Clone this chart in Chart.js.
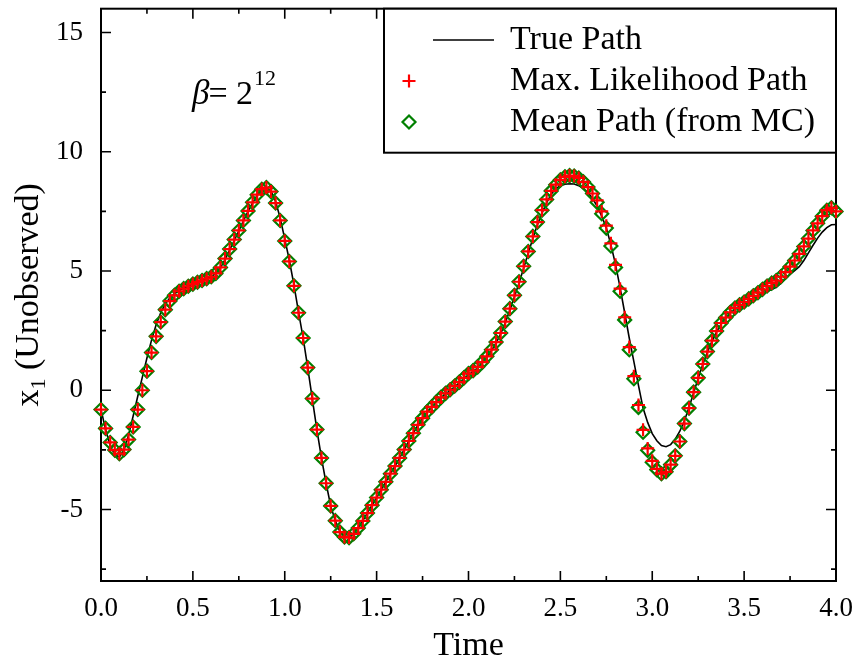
<!DOCTYPE html>
<html>
<head>
<meta charset="utf-8">
<script src="https://cdn.jsdelivr.net/npm/chart.js@4.4.1/dist/chart.umd.min.js"></script>
<style>
  html, body { margin: 0; padding: 0; background: #fff; }
</style>
</head>
<body>
<canvas id="chart_x1_paths" width="856" height="661"></canvas>
<script>
"use strict";

// paths are sampled every 0.025 time units, t = 0 .. 4 (161 samples)
const timeStep = 0.025;

// true (unobserved) x1, black line
const truePath = [
    -0.80, -1.65, -2.33, -2.70, -2.80, -2.52, -1.88, -1.08, -0.25, 0.55,
    1.35, 2.10, 2.75, 3.25, 3.62, 3.88, 4.05, 4.18, 4.28, 4.37,
    4.45, 4.53, 4.60, 4.68, 4.76, 4.90, 5.13, 5.48, 5.88, 6.28,
    6.68, 7.10, 7.50, 7.86, 8.18, 8.40, 8.48, 8.35, 7.92, 7.22,
    6.35, 5.45, 4.42, 3.28, 2.20, 0.95, -0.36, -1.66, -2.85, -3.90,
    -4.85, -5.47, -5.93, -6.12, -6.14, -6.00, -5.76, -5.47, -5.14, -4.82,
    -4.50, -4.17, -3.84, -3.50, -3.18, -2.84, -2.49, -2.13, -1.80, -1.46,
    -1.18, -0.92, -0.72, -0.52, -0.33, -0.16, -0.01, 0.14, 0.30, 0.48,
    0.65, 0.78, 0.94, 1.14, 1.38, 1.66, 1.98, 2.36, 2.83, 3.36,
    3.92, 4.50, 5.12, 5.74, 6.36, 6.94, 7.43, 7.86, 8.22, 8.46,
    8.58, 8.64, 8.66, 8.65, 8.58, 8.46, 8.29, 8.04, 7.72, 7.30,
    6.80, 6.10, 5.28, 4.30, 3.25, 2.18, 1.20, 0.20, -0.75, -1.35,
    -1.82, -2.12, -2.32, -2.37, -2.28, -2.05, -1.72, -1.28, -0.72, -0.12,
    0.50, 1.08, 1.60, 2.05, 2.45, 2.78, 3.02, 3.23, 3.40, 3.54,
    3.65, 3.76, 3.86, 3.96, 4.06, 4.14, 4.22, 4.32, 4.48, 4.68,
    4.86, 5.02, 5.18, 5.44, 5.76, 6.08, 6.38, 6.63, 6.82, 6.94,
    6.95
];

// maximum likelihood path, red crosses
const mlPath = [
    -0.81, -1.60, -2.19, -2.51, -2.66, -2.49, -2.07, -1.54, -0.81, 0.00,
    0.80, 1.58, 2.26, 2.86, 3.38, 3.74, 3.98, 4.15, 4.26, 4.36,
    4.45, 4.53, 4.60, 4.68, 4.76, 4.90, 5.15, 5.52, 5.92, 6.32,
    6.70, 7.12, 7.52, 7.88, 8.20, 8.43, 8.50, 8.33, 7.85, 7.12,
    6.26, 5.40, 4.38, 3.25, 2.19, 0.95, -0.35, -1.65, -2.84, -3.90,
    -4.85, -5.47, -5.95, -6.15, -6.18, -6.02, -5.78, -5.48, -5.15, -4.82,
    -4.50, -4.17, -3.84, -3.50, -3.18, -2.84, -2.49, -2.13, -1.80, -1.45,
    -1.17, -0.90, -0.70, -0.50, -0.30, -0.13, 0.02, 0.18, 0.34, 0.52,
    0.70, 0.82, 0.98, 1.18, 1.42, 1.70, 2.02, 2.40, 2.88, 3.42,
    3.98, 4.55, 5.20, 5.82, 6.45, 7.05, 7.55, 8.00, 8.36, 8.62,
    8.82, 8.95, 9.00, 8.98, 8.90, 8.74, 8.52, 8.25, 7.96, 7.50,
    6.90, 6.16, 5.26, 4.26, 3.06, 1.81, 0.59, -0.62, -1.66, -2.44,
    -2.96, -3.30, -3.50, -3.42, -3.12, -2.75, -2.15, -1.40, -0.75, -0.08,
    0.52, 1.10, 1.62, 2.08, 2.48, 2.82, 3.05, 3.27, 3.45, 3.58,
    3.70, 3.83, 3.96, 4.09, 4.23, 4.37, 4.49, 4.60, 4.76, 4.95,
    5.18, 5.44, 5.72, 6.03, 6.36, 6.70, 7.00, 7.30, 7.55, 7.65,
    7.50
];

// mean path from the Monte Carlo runs, green diamonds
const meanPath = [
    -0.81, -1.60, -2.19, -2.51, -2.66, -2.49, -2.07, -1.54, -0.81, 0.00,
    0.80, 1.58, 2.26, 2.86, 3.38, 3.74, 3.98, 4.15, 4.26, 4.36,
    4.45, 4.53, 4.60, 4.68, 4.76, 4.90, 5.15, 5.52, 5.92, 6.32,
    6.70, 7.12, 7.52, 7.88, 8.20, 8.43, 8.50, 8.33, 7.85, 7.12,
    6.26, 5.40, 4.38, 3.25, 2.19, 0.95, -0.35, -1.65, -2.84, -3.90,
    -4.85, -5.47, -5.95, -6.15, -6.18, -6.02, -5.78, -5.48, -5.15, -4.82,
    -4.50, -4.17, -3.84, -3.50, -3.18, -2.84, -2.49, -2.13, -1.80, -1.45,
    -1.17, -0.90, -0.70, -0.50, -0.30, -0.13, 0.02, 0.18, 0.34, 0.52,
    0.70, 0.82, 0.98, 1.18, 1.42, 1.70, 2.02, 2.40, 2.88, 3.42,
    3.98, 4.55, 5.20, 5.82, 6.45, 7.05, 7.55, 8.00, 8.36, 8.62,
    8.82, 8.95, 9.00, 8.98, 8.90, 8.74, 8.52, 8.25, 7.88, 7.40,
    6.80, 6.05, 5.15, 4.15, 2.95, 1.70, 0.48, -0.72, -1.76, -2.52,
    -3.02, -3.33, -3.50, -3.42, -3.12, -2.75, -2.15, -1.40, -0.75, -0.08,
    0.52, 1.10, 1.62, 2.08, 2.48, 2.82, 3.05, 3.27, 3.45, 3.58,
    3.70, 3.83, 3.96, 4.09, 4.23, 4.37, 4.49, 4.60, 4.76, 4.95,
    5.18, 5.44, 5.72, 6.03, 6.36, 6.70, 7.00, 7.30, 7.55, 7.65,
    7.50
];

const seriesLabels = ["True Path", "Max. Likelihood Path", "Mean Path (from MC)"];

const xMajorTicks = [0, 0.5, 1, 1.5, 2, 2.5, 3, 3.5, 4];
const xMinorTicks = [0.25, 0.75, 1.25, 1.75, 2.25, 2.75, 3.25, 3.75];
const yMajorTicks = [-5, 0, 5, 10, 15];
const yMinorTicks = [-7.5, -2.5, 2.5, 7.5, 12.5];

const xTitle = "Time";
const yTitle = ["x", "1", " (Unobserved)"]; // base, subscript, rest
const betaNote = ["\u03B2", "= 2", "12"];   // beta, "= 2", exponent

const SERIF = "'Liberation Serif', 'Times New Roman', serif";

const toXY = list => list.map((v, i) => ({ x: i * timeStep, y: v }));

// frame with inward ticks on all four sides
const framePlugin = {
    id: "frame",
    beforeDatasetsDraw: chart => {
        const { ctx, chartArea: a, scales } = chart;
        ctx.save();
        ctx.strokeStyle = "#000";
        ctx.lineWidth = 1.6;
        const tick = (list, len) => {
            for (const v of list) {
                const px = scales.x.getPixelForValue(v);
                ctx.beginPath();
                ctx.moveTo(px, a.bottom); ctx.lineTo(px, a.bottom - len);
                ctx.moveTo(px, a.top); ctx.lineTo(px, a.top + len);
                ctx.stroke();
            }
        };
        const ytick = (list, len) => {
            for (const v of list) {
                const py = scales.y.getPixelForValue(v);
                ctx.beginPath();
                ctx.moveTo(a.left, py); ctx.lineTo(a.left + len, py);
                ctx.moveTo(a.right, py); ctx.lineTo(a.right - len, py);
                ctx.stroke();
            }
        };
        tick(xMajorTicks, 10);
        tick(xMinorTicks, 5);
        ytick(yMajorTicks, 10);
        ytick(yMinorTicks, 5);
        ctx.lineWidth = 2;
        ctx.strokeRect(a.left, a.top, a.right - a.left, a.bottom - a.top);
        ctx.restore();
    },
    afterDraw: chart => {
        const { ctx, chartArea: a } = chart;
        ctx.save();

        // y axis title with subscript
        ctx.fillStyle = "#000";
        ctx.textBaseline = "alphabetic";
        ctx.font = "34px " + SERIF;
        const w0 = ctx.measureText(yTitle[0]).width;
        const w2 = ctx.measureText(yTitle[2]).width;
        ctx.font = "22px " + SERIF;
        const w1 = ctx.measureText(yTitle[1]).width;
        const total = w0 + w1 + w2;
        ctx.translate(38, (a.top + a.bottom) / 2);
        ctx.rotate(-Math.PI / 2);
        let cx = -total / 2;
        ctx.font = "34px " + SERIF;
        ctx.fillText(yTitle[0], cx, 0);
        cx += w0;
        ctx.font = "22px " + SERIF;
        ctx.fillText(yTitle[1], cx, 7);
        cx += w1;
        ctx.font = "34px " + SERIF;
        ctx.fillText(yTitle[2], cx, 0);
        ctx.setTransform(1, 0, 0, 1, 0, 0);

        // beta annotation
        let bx = 192;
        const by = 104;
        ctx.font = "italic 35px " + SERIF;
        ctx.fillText(betaNote[0], bx, by);
        bx += ctx.measureText(betaNote[0]).width - 1;
        ctx.font = "34px " + SERIF;
        ctx.fillText(betaNote[1], bx, by);
        bx += ctx.measureText(betaNote[1]).width + 1;
        ctx.font = "22px " + SERIF;
        ctx.fillText(betaNote[2], bx, by - 19);

        // legend box
        const lx = 384, lw = a.right - lx, lh = 144;
        ctx.fillStyle = "#fff";
        ctx.fillRect(lx, a.top, lw, lh);
        ctx.strokeStyle = "#000";
        ctx.lineWidth = 2;
        ctx.strokeRect(lx, a.top, lw, lh);

        const rows = [40, 81, 122];
        ctx.lineWidth = 1.6;
        ctx.beginPath();
        ctx.moveTo(433, rows[0]); ctx.lineTo(494, rows[0]);
        ctx.stroke();

        ctx.strokeStyle = "#ff0000";
        ctx.lineWidth = 2.2;
        ctx.beginPath();
        ctx.moveTo(409 - 6.5, rows[1]); ctx.lineTo(409 + 6.5, rows[1]);
        ctx.moveTo(409, rows[1] - 6.5); ctx.lineTo(409, rows[1] + 6.5);
        ctx.stroke();

        ctx.strokeStyle = "#008000";
        ctx.beginPath();
        ctx.moveTo(409, rows[2] - 6.5); ctx.lineTo(415.5, rows[2]);
        ctx.lineTo(409, rows[2] + 6.5); ctx.lineTo(402.5, rows[2]);
        ctx.closePath();
        ctx.stroke();

        ctx.fillStyle = "#000";
        ctx.font = "34px " + SERIF;
        ctx.textBaseline = "middle";
        seriesLabels.forEach((t, i) => ctx.fillText(t, 510, rows[i]));
        ctx.restore();
    }
};

var ctx = document.getElementById("chart_x1_paths").getContext("2d");

var myChart = new Chart(ctx, {
    type: "line",
    data: {
        datasets: [
            {
                label: seriesLabels[0],
                data: toXY(truePath),
                borderColor: "#000",
                borderWidth: 1.6,
                pointRadius: 0,
                fill: false,
                tension: 0,
                order: 3
            },
            {
                label: seriesLabels[1],
                data: toXY(mlPath),
                showLine: false,
                pointStyle: "cross",
                pointRadius: 6.5,
                pointBorderWidth: 2.2,
                pointBorderColor: "#ff0000",
                pointBackgroundColor: "rgba(0,0,0,0)",
                clip: false,
                order: 1
            },
            {
                label: seriesLabels[2],
                data: toXY(meanPath),
                showLine: false,
                pointStyle: "rectRot",
                pointRadius: 6.5,
                pointBorderWidth: 2.2,
                pointBorderColor: "#008000",
                pointBackgroundColor: "rgba(0,0,0,0)",
                clip: false,
                order: 2
            }
        ]
    },
    options: {
        responsive: false,
        animation: false,
        devicePixelRatio: 1,
        layout: { padding: { top: 8, right: 20, bottom: 0, left: 0 } },
        plugins: { legend: { display: false }, tooltip: { enabled: false } },
        scales: {
            x: {
                type: "linear",
                min: 0,
                max: 4,
                grid: { display: false, drawTicks: false },
                border: { display: false },
                afterBuildTicks: s => { s.ticks = xMajorTicks.map(v => ({ value: v })); },
                afterFit: s => { s.height = 80; s.paddingLeft = 0; s.paddingRight = 0; },
                ticks: {
                    padding: 12,
                    color: "#000",
                    maxRotation: 0,
                    autoSkip: false,
                    font: { family: SERIF, size: 27 },
                    callback: v => Number(v).toFixed(1)
                },
                title: {
                    display: true,
                    text: xTitle,
                    color: "#000",
                    padding: 0,
                    font: { family: SERIF, size: 34, lineHeight: 0.85 }
                }
            },
            y: {
                type: "linear",
                min: -8,
                max: 16,
                grid: { display: false, drawTicks: false },
                border: { display: false },
                afterBuildTicks: s => { s.ticks = yMajorTicks.map(v => ({ value: v })); },
                afterFit: s => { s.width = 101; s.paddingTop = 0; s.paddingBottom = 0; },
                ticks: {
                    padding: 18,
                    color: "#000",
                    autoSkip: false,
                    font: { family: SERIF, size: 27 },
                    callback: v => String(v)
                }
            }
        }
    },
    plugins: [framePlugin]
});
</script>
</body>
</html>
